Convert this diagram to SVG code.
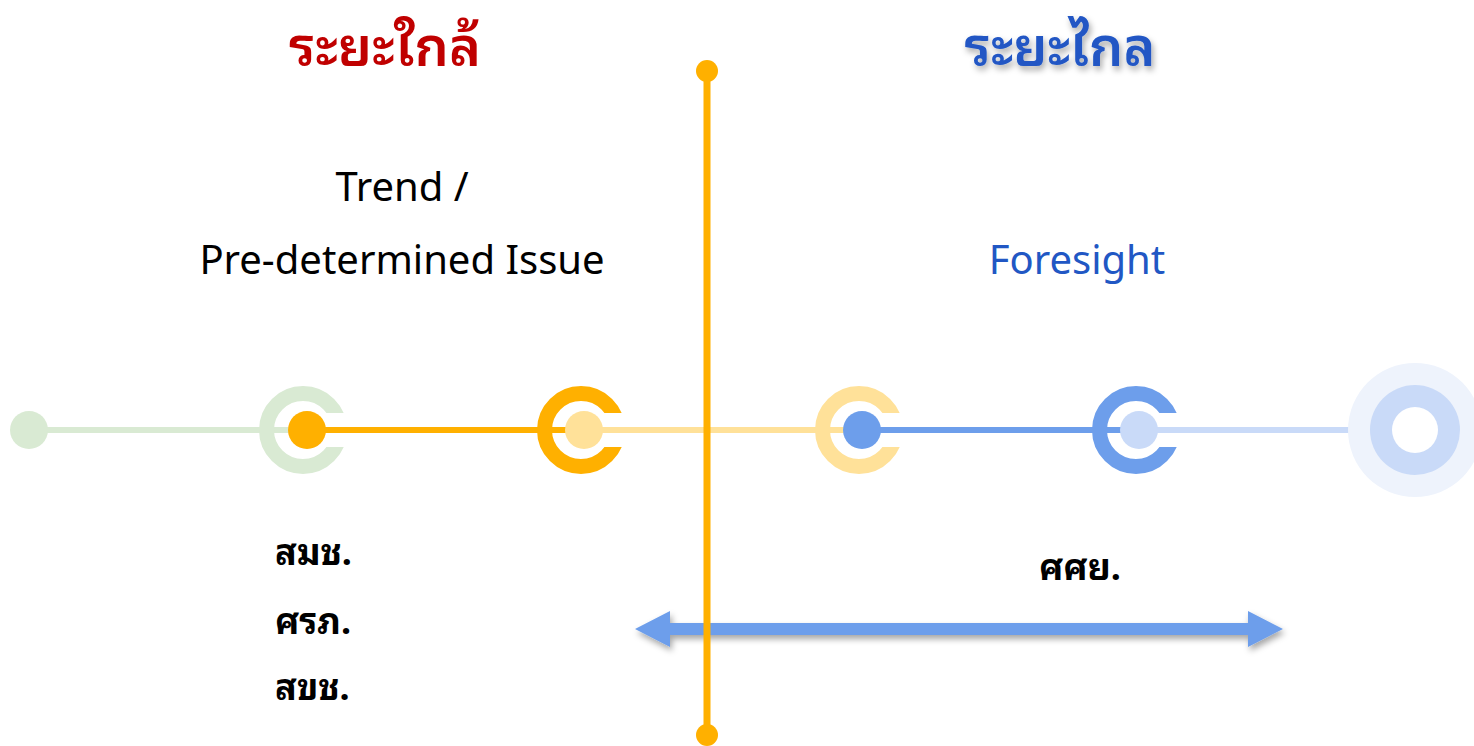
<svg xmlns="http://www.w3.org/2000/svg" width="1474" height="746" viewBox="0 0 1474 746">
<style>
.th{font-family:"Noto Sans Thai Looped","Noto Serif Thai","Noto Sans Thai","Noto Sans","DejaVu Sans",sans-serif;}
.lat{font-family:"Noto Sans","Open Sans",sans-serif;}
.title{font-size:54px;font-weight:600;text-anchor:middle;}
.lbl{font-size:36px;font-weight:bold;fill:#000;}
.sub{font-size:40px;text-anchor:middle;}
</style>
<defs>
<filter id="sh" x="-10%" y="-30%" width="120%" height="180%">
<feDropShadow dx="2" dy="4" stdDeviation="3" flood-color="#000" flood-opacity="0.35"/>
</filter>
<mask id="cm">
<rect x="-60" y="-60" width="120" height="120" fill="#fff"/>
<rect x="20" y="-17" width="40" height="34" fill="#000"/>
</mask>
</defs>

<g id="connectors">
<line x1="29" y1="430" x2="300" y2="430" stroke="#d9ead3" stroke-width="6"/>
<line x1="307" y1="430" x2="570" y2="430" stroke="#ffb000" stroke-width="6"/>
<line x1="584" y1="430" x2="860" y2="430" stroke="#ffe199" stroke-width="6"/>
<line x1="862" y1="430" x2="1130" y2="430" stroke="#6d9eeb" stroke-width="6"/>
<line x1="1140" y1="430" x2="1400" y2="430" stroke="#c9daf8" stroke-width="6"/>
<g id="range-arrow" filter="url(#sh)">
<polygon points="635,629 670,611 670,623 1248,623 1248,611 1283,629 1248,647 1248,635 670,635 670,647" fill="#6d9eeb"/>
</g>
<g id="axis">
<line x1="707" y1="71" x2="707" y2="735" stroke="#ffb000" stroke-width="7"/>
<circle cx="707" cy="71" r="11" fill="#ffb000"/>
<circle cx="707" cy="735" r="11" fill="#ffb000"/>
</g>
</g>

<g id="node1"><circle cx="29" cy="430" r="19" fill="#d9ead3"/></g>
<g id="node2" transform="translate(303,430)">
<circle r="36.5" fill="none" stroke="#d9ead3" stroke-width="15" mask="url(#cm)"/>
<circle cx="4" r="19" fill="#ffb000"/>
</g>
<g id="node3" transform="translate(581,430)">
<circle r="36.5" fill="none" stroke="#ffb000" stroke-width="15" mask="url(#cm)"/>
<circle cx="3" r="19" fill="#ffe199"/>
</g>
<g id="node4" transform="translate(859,430)">
<circle r="36.5" fill="none" stroke="#ffe199" stroke-width="15" mask="url(#cm)"/>
<circle cx="3" r="19" fill="#6d9eeb"/>
</g>
<g id="node5" transform="translate(1136,430)">
<circle r="36.5" fill="none" stroke="#6d9eeb" stroke-width="15" mask="url(#cm)"/>
<circle cx="3" r="19" fill="#c9daf8"/>
</g>
<g id="node6">
<circle cx="1415" cy="430" r="67" fill="#eef3fc"/>
<circle cx="1415" cy="430" r="45" fill="#c9daf8"/>
<circle cx="1415" cy="430" r="23" fill="#fff"/>
</g>

<g id="title-near"><text class="th title" x="385" y="66" fill="#c00000">ระยะใกล้</text></g>
<g id="title-far"><text class="th title" x="1060" y="66" fill="#2157c4" filter="url(#sh)">ระยะไกล</text></g>
<g id="trend">
<text class="lat sub" x="402" y="201" fill="#000">Trend /</text>
<text class="lat sub" x="402" y="274" fill="#000">Pre-determined Issue</text>
</g>
<g id="foresight"><text class="lat sub" x="1077" y="274" fill="#2157c4">Foresight</text></g>
<g id="near-orgs">
<text class="th lbl" x="275" y="565">สมช.</text>
<text class="th lbl" x="275" y="634">ศรภ.</text>
<text class="th lbl" x="275" y="700">สขช.</text>
</g>
<g id="far-orgs"><text class="th lbl" x="1080" y="580" text-anchor="middle">ศศย.</text></g>
</svg>
